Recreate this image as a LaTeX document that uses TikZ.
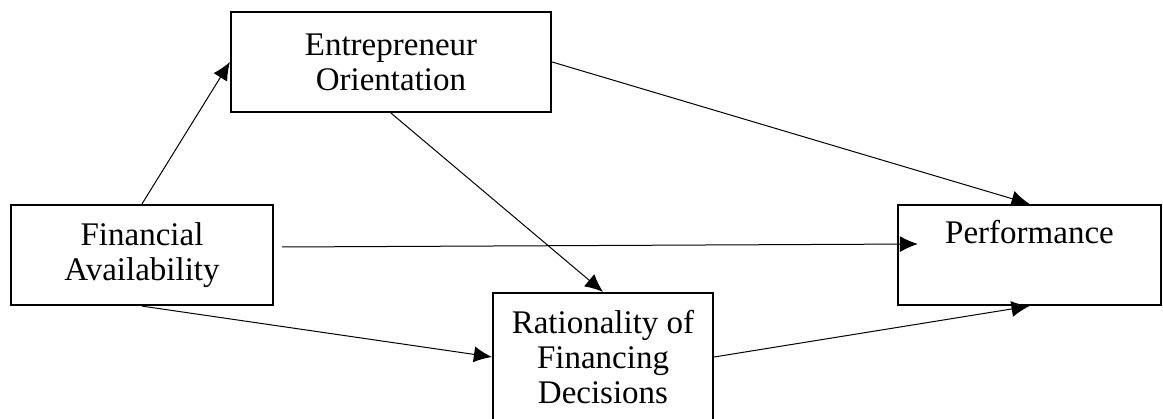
\documentclass[tikz,border=0pt]{standalone}
\usepackage{fontspec}
\setmainfont{Liberation Serif}
\usetikzlibrary{arrows.meta}
\begin{document}
\begin{tikzpicture}[x=1pt,y=-1pt,
  box/.style={draw=black,line width=2.2pt,fill=white,inner sep=0pt,align=center,
    font=\fontsize{33}{35}\selectfont},
  link/.style={line width=1pt,-{Latex[length=18pt,width=16pt]}}]
\useasboundingbox (0,0) rectangle (1163,419);
\clip (0,0) rectangle (1163,419);
\node[box,minimum width=320pt,minimum height=100pt] (eo) at (391,62) {Entrepreneur\\Orientation};
\node[box,minimum width=262pt,minimum height=100pt] (fa) at (142,255) {Financial\\Availability};
\node[box,minimum width=263pt,minimum height=100pt] (perf) at (1029.5,255) {Performance\\\strut};
\node[box,minimum width=220pt,minimum height=128pt] (rf) at (603,357) {Rationality of\\Financing\\Decisions};
\draw[link] (fa.north) -- (eo.west);
\draw[link] (eo.east) -- (perf.north);
\draw[link] (eo.south) -- (rf.north);
\draw[link] ([shift={(8,-8)}]fa.east) -- ([shift={(21,-11)}]perf.west);
\draw[link] (fa.south) -- (rf.west);
\draw[link] (rf.east) -- (perf.south);
\end{tikzpicture}
\end{document}
